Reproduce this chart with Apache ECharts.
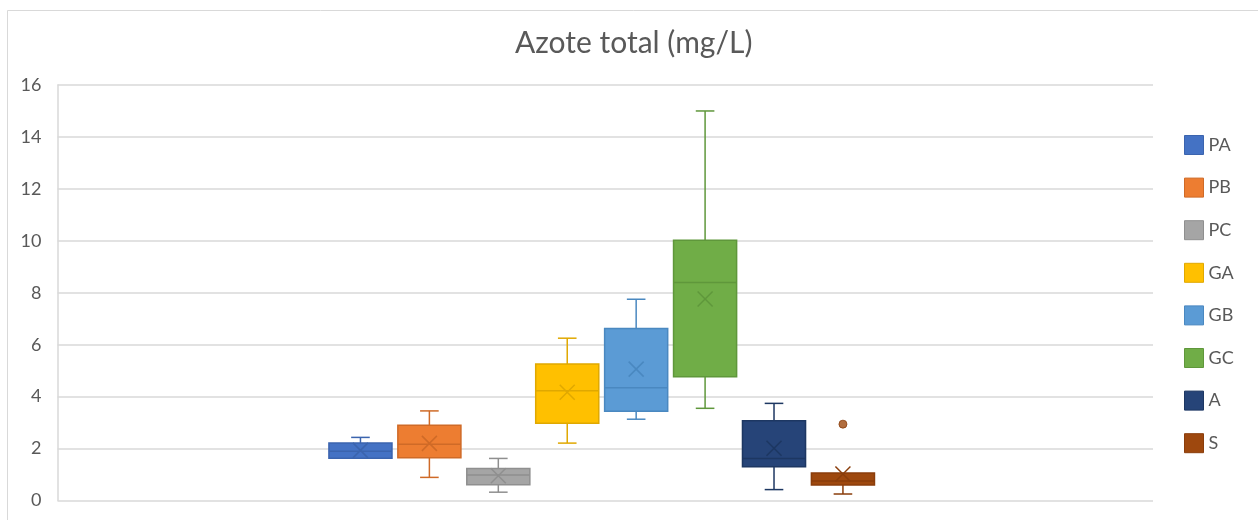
<!DOCTYPE html>
<html>
<head>
<meta charset="utf-8">
<title>Azote total (mg/L)</title>
<script src="https://cdn.jsdelivr.net/npm/echarts@6/dist/echarts.min.js"></script>
<style>
  html, body { margin: 0; padding: 0; background: #ffffff; }
  #chart { width: 1258px; height: 520px; }
</style>
</head>
<body>
<div id="chart"></div>
<script>
// Sampling sites
const groups = ['PA', 'PB', 'PC', 'GA', 'GB', 'GC', 'A', 'S'];

// Box-and-whisker statistics per site (mg/L)
const whiskerLow  = [1.63, 0.89, 0.32, 2.21, 3.13, 3.55, 0.42, 0.25];
const quartile1   = [1.63, 1.65, 0.61, 2.97, 3.44, 4.77, 1.30, 0.60];
const median      = [1.90, 2.17, 0.98, 4.23, 4.34, 8.39, 1.62, 0.75];
const quartile3   = [2.21, 2.90, 1.23, 5.26, 6.62, 10.02, 3.07, 1.06];
const whiskerHigh = [2.43, 3.45, 1.62, 6.25, 7.75, 15.00, 3.74, 1.06];
const mean        = [1.93, 2.20, 0.95, 4.17, 5.06, 7.76, 2.01, 1.02];

// Outliers: [site index, value]
const outliers = [[7, 2.94]];

// Y axis ticks
const yMin = 0, yMax = 16, yStep = 2;

// Office palette: fill and outline colours
const fills   = ['#4472C4', '#ED7D31', '#A5A5A5', '#FFC000', '#5B9BD5', '#70AD47', '#264478', '#9E480E'];
const strokes = ['#3B64AE', '#CF6A27', '#8F8F8F', '#E0A800', '#4A88C0', '#5F973B', '#1D3762', '#8A3D0B'];

const FONT = 'Lato, "Open Sans", sans-serif';
const TEXT = '#595959';
const GRID = '#D9D9D9';

function makeBox(fill, stroke) {
  return function (params, api) {
    const x = api.value(0);
    const band = api.size([1, 0])[0];
    const bw = band * 0.915;
    const cap = band * 0.27;
    const pLow = api.coord([x, api.value(1)]);
    const pQ1 = api.coord([x, api.value(2)]);
    const pMed = api.coord([x, api.value(3)]);
    const pQ3 = api.coord([x, api.value(4)]);
    const pHigh = api.coord([x, api.value(5)]);
    const pMean = api.coord([x, api.value(6)]);
    const cx = pQ1[0];
    const lw = 1.5;
    const line = (x1, y1, x2, y2) => ({
      type: 'line',
      shape: { x1, y1, x2, y2 },
      style: { stroke, lineWidth: lw }
    });
    const children = [];
    if (pHigh[1] < pQ3[1] - 0.5) {
      children.push(line(cx, pQ3[1], cx, pHigh[1]));
      children.push(line(cx - cap / 2, pHigh[1], cx + cap / 2, pHigh[1]));
    }
    if (pLow[1] > pQ1[1] + 0.5) {
      children.push(line(cx, pQ1[1], cx, pLow[1]));
      children.push(line(cx - cap / 2, pLow[1], cx + cap / 2, pLow[1]));
    }
    children.push({
      type: 'rect',
      shape: { x: cx - bw / 2, y: pQ3[1], width: bw, height: pQ1[1] - pQ3[1] },
      style: { fill, stroke, lineWidth: lw }
    });
    children.push(line(cx - bw / 2, pMed[1], cx + bw / 2, pMed[1]));
    const m = 7.5;
    children.push(line(cx - m, pMean[1] - m, cx + m, pMean[1] + m));
    children.push(line(cx - m, pMean[1] + m, cx + m, pMean[1] - m));
    return { type: 'group', children };
  };
}

const boxSeries = groups.map((name, i) => ({
  type: 'custom',
  name,
  xAxisIndex: 1,
  yAxisIndex: 1,
  itemStyle: { color: fills[i], borderColor: strokes[i] },
  renderItem: makeBox(fills[i], strokes[i]),
  encode: { x: 0, y: [1, 2, 3, 4, 5, 6] },
  data: [[i, whiskerLow[i], quartile1[i], median[i], quartile3[i], whiskerHigh[i], mean[i]]],
  z: 3
}));

const outlierSeries = outliers.map(([idx, v]) => ({
  type: 'scatter',
  name: groups[idx],
  xAxisIndex: 1,
  yAxisIndex: 1,
  symbol: 'circle',
  symbolSize: 8,
  itemStyle: { color: fills[idx], borderColor: strokes[idx], borderWidth: 1 },
  data: [[idx, v]],
  z: 4
}));

const chart = echarts.init(document.getElementById('chart'), null, { renderer: 'canvas' });

chart.setOption({
  animation: false,
  backgroundColor: '#ffffff',
  title: {
    text: 'Azote total (mg/L)',
    left: 510,
    top: 23,
    textStyle: { fontFamily: FONT, fontSize: 30, fontWeight: 'normal', color: TEXT }
  },
  legend: {
    orient: 'vertical',
    left: 1179,
    top: 130,
    icon: 'rect',
    itemWidth: 19,
    itemHeight: 19,
    itemGap: 22.6,
    textStyle: { fontFamily: FONT, fontSize: 18, color: TEXT, lineHeight: 19 },
    data: groups.map((name, i) => ({
      name,
      itemStyle: { color: fills[i], borderColor: strokes[i], borderWidth: 1 }
    }))
  },
  graphic: [{
    type: 'rect',
    silent: true,
    shape: { x: 7.5, y: 10.5, width: 1400, height: 700 },
    style: { fill: 'none', stroke: GRID, lineWidth: 1 },
    z: -1
  }],
  grid: [
    { left: 57.5, right: 105, top: 85, bottom: 19.5 },
    { left: 326, width: 551.4, top: 85, bottom: 19.5 }
  ],
  xAxis: [
    {
      type: 'category',
      gridIndex: 0,
      data: [''],
      axisLine: { show: false },
      axisTick: { show: false },
      axisLabel: { show: false }
    },
    {
      type: 'category',
      gridIndex: 1,
      data: groups,
      boundaryGap: true,
      axisLine: { show: false },
      axisTick: { show: false },
      axisLabel: { show: false },
      splitLine: { show: false }
    }
  ],
  yAxis: [
    {
      type: 'value',
      gridIndex: 0,
      min: yMin,
      max: yMax,
      interval: yStep,
      axisLine: { show: true, lineStyle: { color: GRID, width: 1.5 } },
      axisTick: { show: false },
      axisLabel: { fontFamily: FONT, fontSize: 18, color: TEXT, margin: 16 },
      splitLine: { lineStyle: { color: GRID, width: 1.5 } }
    },
    {
      type: 'value',
      gridIndex: 1,
      min: yMin,
      max: yMax,
      interval: yStep,
      axisLine: { show: false },
      axisTick: { show: false },
      axisLabel: { show: false },
      splitLine: { show: false }
    }
  ],
  series: boxSeries.concat(outlierSeries)
});
</script>
</body>
</html>
